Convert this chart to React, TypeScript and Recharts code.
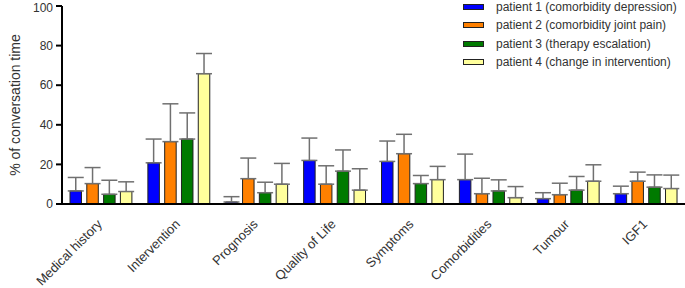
import { BarChart, Bar, XAxis, YAxis, ErrorBar, Legend } from 'recharts';

const categories = ['Medical history', 'Intervention', 'Prognosis', 'Quality of Life', 'Symptoms', 'Comorbidities', 'Tumour', 'IGF1'];

// mean % of conversation time per patient, and upper SD
const p1Mean = [6.6, 20.8, 1.0, 22.0, 21.5, 12.3, 2.7, 5.2];
const p1Err = [6.8, 12.0, 2.7, 11.3, 10.3, 12.9, 3.0, 3.8];
const p2Mean = [10.3, 31.5, 12.8, 10.0, 25.4, 5.2, 4.7, 11.5];
const p2Err = [8.1, 19.1, 10.4, 9.3, 9.8, 7.8, 5.8, 4.6];
const p3Mean = [4.9, 32.8, 5.7, 16.6, 10.3, 6.6, 7.0, 8.5];
const p3Err = [7.1, 13.2, 5.3, 10.7, 4.1, 5.6, 6.9, 6.2];
const p4Mean = [6.3, 65.8, 10.0, 7.0, 12.3, 3.2, 11.5, 7.8];
const p4Err = [4.9, 10.2, 10.5, 10.8, 6.7, 5.6, 8.3, 6.8];

const yTicks = [0, 20, 40, 60, 80, 100];

const SERIES = [
  { key: 'p1', name: 'patient 1 (comorbidity depression)', color: '#0000ff' },
  { key: 'p2', name: 'patient 2 (comorbidity joint pain)', color: '#ff8000' },
  { key: 'p3', name: 'patient 3 (therapy escalation)', color: '#007a00' },
  { key: 'p4', name: 'patient 4 (change in intervention)', color: '#ffff9c' },
];

const data = categories.map((name, i) => ({
  name,
  p1: p1Mean[i], p1e: [0, p1Err[i]],
  p2: p2Mean[i], p2e: [0, p2Err[i]],
  p3: p3Mean[i], p3e: [0, p3Err[i]],
  p4: p4Mean[i], p4e: [0, p4Err[i]],
}));

const FONT = '"Liberation Sans", Arial, sans-serif';

const XTick = ({ x, y, payload }: any) => (
  <g transform={`translate(${x + 2},${y + 19})`}>
    <text x={0} y={0} textAnchor="end" transform="rotate(-45)" fill="#333" fontSize={13} fontFamily={FONT}>
      {payload.value}
    </text>
  </g>
);

const LegendBox = () => (
  <div style={{ fontFamily: FONT, fontSize: 12, color: '#333', whiteSpace: 'nowrap' }}>
    {SERIES.map((s) => (
      <div key={s.key} style={{ display: 'flex', alignItems: 'center', height: 18.3 }}>
        <span style={{ display: 'inline-block', width: 19, height: 4, background: s.color, border: '1px solid #222', marginRight: 12 }} />
        <span>{s.name}</span>
      </div>
    ))}
  </div>
);

export default function App() {
  return (
    <div style={{ position: 'absolute', left: 0, top: 0, background: '#fff' }}>
      <BarChart
        width={685}
        height={288}
        data={data}
        margin={{ top: 6, right: 0, left: 0, bottom: 0 }}
        barGap={5.3}
        barSize={11.5}
      >
        <XAxis
          dataKey="name"
          height={84}
          interval={0}
          tick={<XTick />}
          tickLine={false}
          tickSize={0}
          axisLine={{ stroke: '#000', strokeWidth: 2 }}
        />
        <YAxis
          width={62}
          domain={[0, 100]}
          ticks={yTicks}
          tickSize={6}
          tickMargin={3}
          tick={{ fill: '#333', fontSize: 12, fontFamily: FONT }}
          tickLine={{ stroke: '#000', strokeWidth: 2 }}
          axisLine={{ stroke: '#000', strokeWidth: 2 }}
          label={{
            value: '% of conversation time',
            angle: -90,
            position: 'insideLeft',
            offset: 15,
            style: { textAnchor: 'middle', fill: '#333', fontSize: 14, fontFamily: FONT },
          }}
        />
        <Legend
          layout="vertical"
          align="center"
          verticalAlign="middle"
          wrapperStyle={{ top: -2, left: 463, width: 220 }}
          content={<LegendBox />}
        />
        {SERIES.map((s) => (
          <Bar key={s.key} dataKey={s.key} name={s.name} fill={s.color} stroke="#222" strokeWidth={1} isAnimationActive={false}>
            <ErrorBar dataKey={`${s.key}e`} width={8} stroke="#707070" strokeWidth={1.5} direction="y" />
          </Bar>
        ))}
      </BarChart>
    </div>
  );
}
